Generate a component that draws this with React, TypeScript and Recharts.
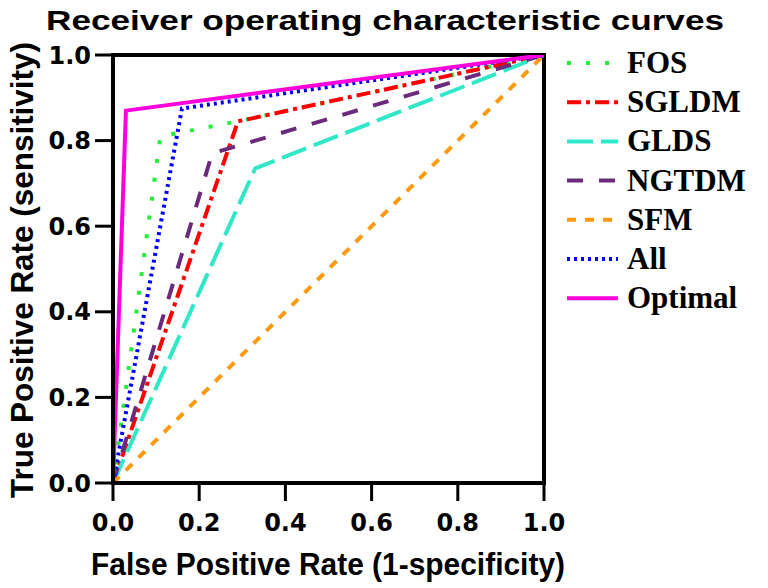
import { LineChart, Line, XAxis, YAxis, ReferenceArea } from 'recharts';

// ROC points: false positive rate / true positive rate
const FOS_FPR = [0, 0.11, 0.29, 1];
const FOS_TPR = [0, 0.81, 0.845, 1];
const SGLDM_FPR = [0, 0.29, 1];
const SGLDM_TPR = [0, 0.845, 1];
const GLDS_FPR = [0, 0.33, 1];
const GLDS_TPR = [0, 0.735, 1];
const NGTDM_FPR = [0, 0.23, 1];
const NGTDM_TPR = [0, 0.77, 1];
const SFM_FPR = [0, 1];
const SFM_TPR = [0, 1];
const ALL_FPR = [0, 0.16, 1];
const ALL_TPR = [0, 0.875, 1];
const OPT_FPR = [0, 0.03, 1];
const OPT_TPR = [0, 0.87, 1];

const TICKS = [0, 0.2, 0.4, 0.6, 0.8, 1.0];

const zip = (xs: number[], ys: number[]) => xs.map((x, i) => ({ fpr: x, tpr: ys[i] }));

const series = [
  { name: 'FOS', color: '#22f03a', dash: '4 15', data: zip(FOS_FPR, FOS_TPR) },
  { name: 'SGLDM', color: '#ff0000', dash: '14 5 4 5', data: zip(SGLDM_FPR, SGLDM_TPR) },
  { name: 'GLDS', color: '#30e8c8', dash: '26 8', data: zip(GLDS_FPR, GLDS_TPR) },
  { name: 'NGTDM', color: '#6c2a7c', dash: '16 16', data: zip(NGTDM_FPR, NGTDM_TPR) },
  { name: 'SFM', color: '#ff9a10', dash: '9 9', data: zip(SFM_FPR, SFM_TPR) },
  { name: 'All', color: '#0000ff', dash: '3 4', data: zip(ALL_FPR, ALL_TPR) },
  { name: 'Optimal', color: '#ff00dd', dash: undefined, data: zip(OPT_FPR, OPT_TPR) },
];

const tickStyle = { fill: '#000', fontSize: 24, fontFamily: 'DejaVu Sans', fontWeight: 'bold' };

export default function App() {
  return (
    <div style={{ position: 'absolute', left: 0, top: 0, width: 768, height: 588, background: '#fff' }}>
      <LineChart width={768} height={588} margin={{ top: 55, right: 224, bottom: 45, left: 53 }}>
        <XAxis
          type="number"
          dataKey="fpr"
          domain={[0, 1]}
          ticks={TICKS}
          tickFormatter={(v: number) => v.toFixed(1)}
          tickSize={18}
          tickMargin={13}
          height={60}
          axisLine={{ stroke: '#000', strokeWidth: 4 }}
          tickLine={{ stroke: '#000', strokeWidth: 3 }}
          tick={tickStyle}
          allowDataOverflow
        />
        <YAxis
          type="number"
          dataKey="tpr"
          domain={[0, 1]}
          ticks={TICKS}
          tickFormatter={(v: number) => v.toFixed(1)}
          tickSize={18}
          tickMargin={4}
          width={60}
          axisLine={{ stroke: '#000', strokeWidth: 4 }}
          tickLine={{ stroke: '#000', strokeWidth: 3 }}
          tick={tickStyle}
          allowDataOverflow
        />
        {series.map((s) => (
          <Line
            key={s.name}
            data={s.data}
            dataKey="tpr"
            name={s.name}
            type="linear"
            stroke={s.color}
            strokeWidth={4}
            strokeDasharray={s.dash}
            dot={false}
            activeDot={false}
            isAnimationActive={false}
          />
        ))}
        <ReferenceArea x1={0} x2={1} y1={0} y2={1} fill="none" stroke="#000" strokeWidth={4} ifOverflow="visible" />
      </LineChart>
      <svg width={768} height={588} style={{ position: 'absolute', left: 0, top: 0, pointerEvents: 'none' }}>
        <text x={46} y={30} fontFamily="Liberation Sans, Arial, sans-serif" fontWeight="bold" fontSize={28}
          textLength={678} lengthAdjust="spacingAndGlyphs">
          Receiver operating characteristic curves
        </text>
        <text x={328} y={575} textAnchor="middle" fontFamily="Liberation Sans, Arial, sans-serif" fontWeight="bold"
          fontSize={31} textLength={474} lengthAdjust="spacingAndGlyphs">
          False Positive Rate (1-specificity)
        </text>
        <text x={33} y={270} transform="rotate(-90, 33, 270)" textAnchor="middle"
          fontFamily="Liberation Sans, Arial, sans-serif" fontWeight="bold" fontSize={31}
          textLength={456} lengthAdjust="spacingAndGlyphs">
          True Positive Rate (sensitivity)
        </text>
        {series.map((s, i) => {
          const cy = 63 + i * 39.2;
          return (
            <g key={s.name}>
              <line x1={567} x2={618} y1={cy} y2={cy} stroke={s.color} strokeWidth={4} strokeDasharray={s.dash} />
              <text x={627} y={cy + 10} fontFamily="Liberation Serif, Times New Roman, serif" fontWeight="bold" fontSize={31}>
                {s.name}
              </text>
            </g>
          );
        })}
      </svg>
    </div>
  );
}
